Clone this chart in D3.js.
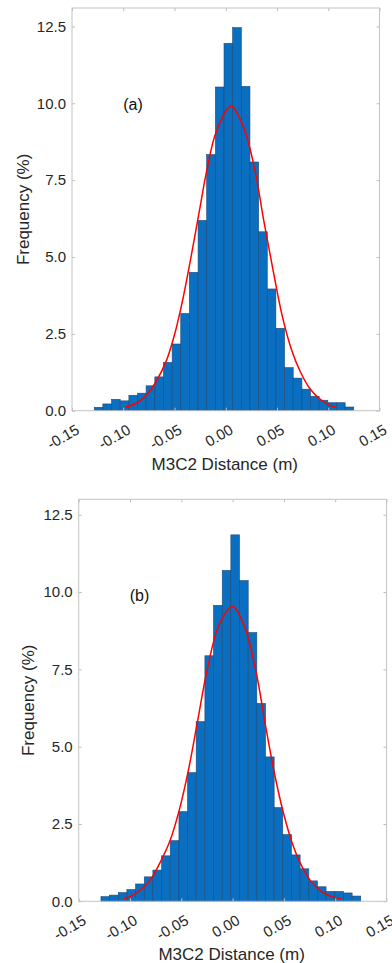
<!DOCTYPE html>
<html>
<head>
<meta charset="utf-8">
<script src="https://cdn.jsdelivr.net/npm/d3@7"></script>
<style>
  body { margin: 0; background: #fff; }
  svg { display: block; font-family: "Liberation Sans", Arial, sans-serif; }
</style>
</head>
<body>
<svg id="chart" width="392" height="963"></svg>
<script>
// histogram bin edges (m), shared by both panels
var binEdges = [-0.1283, -0.1199, -0.1114, -0.1030, -0.0945, -0.0861, -0.0777, -0.0692,
  -0.0608, -0.0523, -0.0439, -0.0355, -0.0270, -0.0186, -0.0101, -0.0017, 0.0067,
  0.0152, 0.0236, 0.0321, 0.0405, 0.0489, 0.0574, 0.0658, 0.0743, 0.0827, 0.0911,
  0.0996, 0.1080, 0.1165, 0.1249];

// frequency (%) per bin
var freqA = [0.11, 0.22, 0.37, 0.32, 0.50, 0.57, 0.81, 1.10, 1.57, 2.17, 3.16, 4.50, 6.19,
  8.33, 10.53, 11.95, 12.46, 10.55, 8.09, 5.82, 3.96, 2.68, 1.40, 1.06, 0.70, 0.47,
  0.34, 0.26, 0.26, 0.12];
var freqB = [0.15, 0.20, 0.28, 0.38, 0.56, 0.79, 1.01, 1.47, 1.96, 2.90, 4.16, 5.81, 7.94,
  9.57, 10.70, 11.85, 10.37, 8.69, 6.40, 4.67, 3.03, 2.16, 1.50, 1.05, 0.66, 0.47,
  0.32, 0.32, 0.27, 0.17];

// fitted normal curve
var fitAx = [-0.098, -0.087, -0.077, -0.068, -0.058, -0.050, -0.043, -0.035, -0.026, -0.018,
  -0.009, 0.005, 0.017, 0.028, 0.037, 0.046, 0.055, 0.064, 0.073, 0.082, 0.091, 0.100, 0.107];
var fitAy = [0.11, 0.25, 0.52, 0.95, 1.62, 2.47, 3.45, 4.8, 6.45, 7.9, 9.1, 9.9, 9.25, 7.9,
  6.2, 4.6, 3.1, 2.0, 1.25, 0.72, 0.4, 0.2, 0.11];
var fitBx = [-0.106, -0.097, -0.088, -0.079, -0.070, -0.061, -0.052, -0.043, -0.034, -0.025,
  -0.013, 0.000, 0.012, 0.023, 0.032, 0.041, 0.050, 0.059, 0.068, 0.077, 0.086, 0.096, 0.106];
var fitBy = [0.08, 0.2, 0.42, 0.75, 1.3, 1.96, 2.95, 4.25, 5.85, 7.45, 8.95, 9.53, 8.85, 7.4,
  5.7, 4.1, 2.8, 1.8, 1.1, 0.62, 0.33, 0.16, 0.08];

var xTicks = [-0.15, -0.10, -0.05, 0.00, 0.05, 0.10, 0.15];
var yTicks = [0, 2.5, 5.0, 7.5, 10.0, 12.5];

var svg = d3.select("#chart");
var textColor = "#262626";

var panels = [
  { label: "(a)", freq: freqA, fx: fitAx, fy: fitAy, left: 72, top: 8, right: 379.5, bottom: 410.7,
    ymax: 13.1, labelPos: [133, 110], yLabelX: 29 },
  { label: "(b)", freq: freqB, fx: fitBx, fy: fitBy, left: 78.7, top: 499.3, right: 386.5, bottom: 901.3,
    ymax: 13.0, labelPos: [139.5, 601], yLabelX: 34 }
];

panels.forEach(function(p) {
  var w = p.right - p.left, h = p.bottom - p.top;
  var x = d3.scaleLinear().domain([-0.15, 0.15]).range([0, w]);
  var y = d3.scaleLinear().domain([0, p.ymax]).range([h, 0]);

  var g = svg.append("g").attr("transform", "translate(" + p.left + "," + p.top + ")");

  // bars
  g.selectAll("rect.bar")
    .data(p.freq)
    .enter()
    .append("rect")
      .attr("class", "bar")
      .attr("x", function(d, i) { return x(binEdges[i]); })
      .attr("width", function(d, i) { return x(binEdges[i + 1]) - x(binEdges[i]); })
      .attr("y", function(d) { return y(d); })
      .attr("height", function(d) { return h - y(d); })
      .attr("fill", "#0a6fc0")
      .attr("stroke", "#1b4a78")
      .attr("stroke-width", 0.6);

  // fitted curve
  var pts = p.fx.map(function(v, i) { return [v, p.fy[i]]; });
  g.append("path")
    .datum(pts)
    .attr("fill", "none")
    .attr("stroke", "#ff0000")
    .attr("stroke-width", 1.5)
    .attr("d", d3.line()
      .x(function(d) { return x(d[0]); })
      .y(function(d) { return y(d[1]); })
      .curve(d3.curveCatmullRom.alpha(0.5)));

  // axes, ticks pointing inward
  var yAxis = g.append("g")
    .call(d3.axisLeft(y).tickValues(yTicks).tickSize(-3).tickPadding(6)
      .tickFormat(function(d) { return d.toFixed(1); }));
  var xAxis = g.append("g").attr("transform", "translate(0," + h + ")")
    .call(d3.axisBottom(x).tickValues(xTicks).tickSize(-3)
      .tickFormat(function(d) { return d.toFixed(2); }));
  var topAxis = g.append("g")
    .call(d3.axisTop(x).tickValues(xTicks).tickSize(-3).tickFormat(""));
  var rightAxis = g.append("g").attr("transform", "translate(" + w + ",0)")
    .call(d3.axisRight(y).tickValues(yTicks).tickSize(-3).tickFormat(""));

  [yAxis, xAxis, topAxis, rightAxis].forEach(function(a) {
    a.select(".domain").remove();
    a.selectAll("line").attr("stroke", "#bdbdbd");
  });

  yAxis.selectAll("text")
    .attr("fill", textColor)
    .style("font-size", "15px");

  xAxis.selectAll("text")
    .attr("x", null).attr("y", null).attr("dy", null)
    .attr("text-anchor", "end")
    .attr("transform", "translate(8,22) rotate(-30)")
    .attr("fill", textColor)
    .style("font-size", "15px");

  // box
  g.append("rect")
    .attr("width", w).attr("height", h)
    .attr("fill", "none")
    .attr("stroke", "#c4c4c4")
    .attr("stroke-width", 1);

  // axis titles
  svg.append("text")
    .attr("transform", "translate(" + p.yLabelX + "," + (p.top + h / 2) + ") rotate(-90)")
    .attr("text-anchor", "middle")
    .attr("fill", textColor)
    .style("font-size", "17px")
    .text("Frequency (%)");

  svg.append("text")
    .attr("x", p.left + x(0) - 1)
    .attr("y", p.bottom + 59)
    .attr("text-anchor", "middle")
    .attr("fill", textColor)
    .style("font-size", "17px")
    .text("M3C2 Distance (m)");

  svg.append("text")
    .attr("x", p.labelPos[0]).attr("y", p.labelPos[1])
    .attr("text-anchor", "middle")
    .attr("fill", "#111")
    .style("font-size", "16px")
    .text(p.label);
});
</script>
</body>
</html>
